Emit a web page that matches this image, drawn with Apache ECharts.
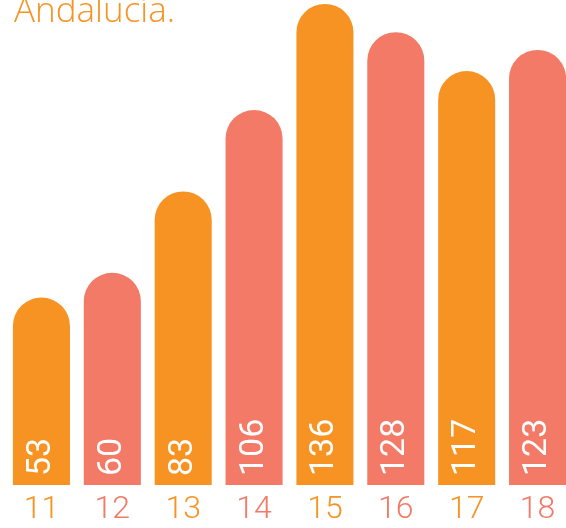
<!DOCTYPE html>
<html><head><meta charset="utf-8">
<script src="https://cdn.jsdelivr.net/npm/echarts@6/dist/echarts.min.js"></script>
<style>html,body{margin:0;padding:0;background:#fff}#c{width:566px;height:528px}</style>
</head><body><div id="c"></div>
<script>
const categories = ['11','12','13','14','15','16','17','18'];
const values = [53, 60, 83, 106, 136, 128, 117, 123];
const titleText = 'Andalucía.';
const ORANGE = '#F69322';
const SALMON = '#F27A67';
const colorFor = i => (i % 2 === 0 ? ORANGE : SALMON);

const chart = echarts.init(document.getElementById('c'), null, {renderer: 'canvas'});
chart.setOption({
  animation: false,
  title: {
    text: titleText, left: 9, top: -10,
    textStyle: {color: ORANGE, fontFamily: 'Open Sans', fontWeight: 300, fontSize: 35}
  },
  grid: {left: 6, width: 567, top: 0, bottom: 43, containLabel: false, outerBoundsMode: 'none'},
  xAxis: {
    type: 'category', data: categories,
    axisLine: {show: false}, axisTick: {show: false},
    axisLabel: {
      margin: 9, fontSize: 32, fontFamily: 'Roboto', fontWeight: 300,
      color: (v, i) => colorFor(i)
    }
  },
  yAxis: {type: 'value', min: 0, max: 137.1, show: false, splitLine: {show: false}},
  series: [{
    type: 'bar',
    barCategoryGap: '19.5%',
    data: values.map((v, i) => ({value: v, itemStyle: {color: colorFor(i)}})),
    itemStyle: {borderRadius: [29, 29, 0, 0]},
    label: {
      show: true, position: 'insideBottom', rotate: 90, distance: 9,
      align: 'left', verticalAlign: 'middle',
      color: '#fff', fontSize: 34, fontFamily: 'Roboto', fontWeight: 400
    }
  }]
});
</script></body></html>
